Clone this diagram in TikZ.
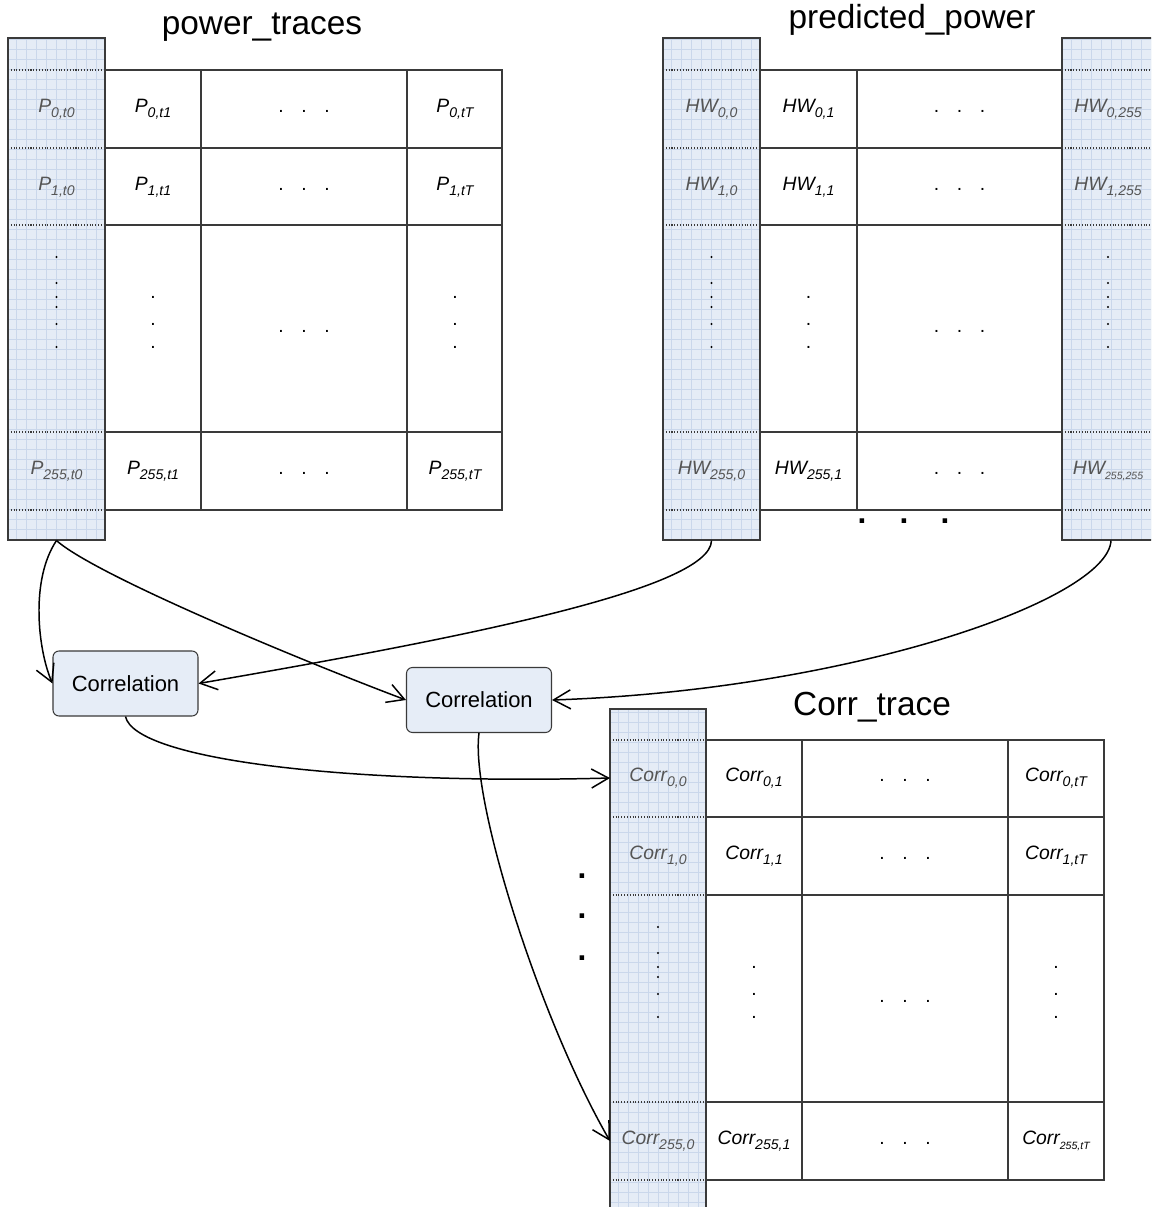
\documentclass[tikz,border=0pt]{standalone}
\usepackage{fontspec}
\setmainfont{Liberation Sans}
\usetikzlibrary{arrows.meta}

\definecolor{shadefill}{HTML}{E5ECF6}
\definecolor{shadegrid}{HTML}{CAD7EB}
\definecolor{tableline}{HTML}{3A3A3A}
\definecolor{greytext}{HTML}{555555}
\definecolor{boxfill}{HTML}{E6EDF7}

% subscripts of the cell labels
\newcommand\subidx[1]{\raisebox{-0.28em}{\fontsize{8}{9}\selectfont #1}}
\newcommand\smallsubidx[1]{\raisebox{-0.3em}{\fontsize{6}{7}\selectfont #1}}

\tikzset{
  shadecol/.style={draw=tableline, line width=0.6pt, fill=shadefill, inner sep=0pt,
    path picture={\draw[shadegrid, line width=0.3pt]
      (path picture bounding box.south west) grid[step=2mm]
      (path picture bounding box.north east);}},
  tline/.style={draw=tableline, line width=0.6pt},
  rowsep/.style={draw=tableline, line width=0.6pt, densely dotted},
  cell/.style={font=\fontsize{11}{13}\selectfont\itshape, inner sep=0pt},
  gcell/.style={cell, text=greytext},
  title/.style={font=\fontsize{19}{22}\selectfont, inner sep=0pt},
  dotmark/.style={font=\fontsize{11}{13}\selectfont, inner sep=0pt},
  bigdot/.style={font=\fontsize{18}{20}\selectfont\bfseries, inner sep=0pt},
  corrbox/.style={draw=tableline, fill=boxfill, line width=0.6pt, rounded corners=1.2mm,
    minimum width=29mm, minimum height=13mm, font=\fontsize{12.5}{15}\selectfont},
  flow/.style={line width=0.85pt, -{Straight Barb[length=3.4mm, width=3.8mm]}}
}

% three dots in a row, centred on (#1,#2)
\newcommand\hdotsat[2]{%
  \node[dotmark] at ({#1-23},{#2}) {.};
  \node[dotmark] at ({#1},{#2}) {.};
  \node[dotmark] at ({#1+23},{#2}) {.};}
% three dots in a column, around the middle of a tall row
\newcommand\vdotsat[2]{%
  \node[dotmark] at ({#1},{#2-31}) {.};
  \node[dotmark] at ({#1},{#2-4}) {.};
  \node[dotmark] at ({#1},{#2+19}) {.};}
% the longer, unevenly spaced column of marks in the shaded columns
\newcommand\vdotslong[2]{%
  \foreach \dy in {-71,-45,-31,-21,-4,19}
    \fill[black] ({#1},{#2+\dy}) circle[radius=0.65pt];}

\begin{document}
\begin{tikzpicture}[x=0.2mm, y=-0.2mm]
\clip (0,0) rectangle (1151,1207);
\fill[white] (0,0) rectangle (1151,1207);

% ---------- shaded key columns ----------
\node[shadecol, minimum width=19.4mm, minimum height=100.4mm] (pcol)  at (56.5,289) {};
\node[shadecol, minimum width=19.4mm, minimum height=100.4mm] (hcol1) at (711.5,289) {};
\node[shadecol, minimum width=19.6mm, minimum height=100.4mm] (hcol2) at (1111,289) {};
\node[shadecol, minimum width=19.2mm, minimum height=101.2mm] (ccol)  at (658,962) {};

% ---------- power_traces ----------
\node[title] (ttl1) at (262,27) {power\_traces};
\draw[tline] (105,70) rectangle (502,510);
\draw[tline] (201,70) -- (201,510) (407,70) -- (407,510);
\foreach \yy in {148,225,432} \draw[tline] (105,\yy) -- (502,\yy);
\foreach \yy in {70,148,225,432,510} \draw[rowsep] (8,\yy) -- (105,\yy);

\node[gcell] (p00) at (56.5,109) {P\subidx{0,t0}};
\node[cell]  (p01) at (153,109) {P\subidx{0,t1}};
\node[cell]  (p0T) at (455,109) {P\subidx{0,tT}};
\node[gcell] (p10) at (56.5,187) {P\subidx{1,t0}};
\node[cell]  (p11) at (153,187) {P\subidx{1,t1}};
\node[cell]  (p1T) at (455,187) {P\subidx{1,tT}};
\node[gcell] (p20) at (56.5,471) {P\subidx{255,t0}};
\node[cell]  (p21) at (153,471) {P\subidx{255,t1}};
\node[cell]  (p2T) at (455,471) {P\subidx{255,tT}};
\hdotsat{304}{111}
\hdotsat{304}{189}
\hdotsat{304}{331}
\hdotsat{304}{473}
\vdotslong{56.5}{328}
\vdotsat{153}{328}
\vdotsat{455}{328}

% ---------- predicted_power ----------
\node[title] (ttl2) at (912,20) {predicted\_power};
\foreach \yy in {70,148,225,432,510} {
  \draw[tline] (760,\yy) -- (1062,\yy);
  \draw[rowsep] (663,\yy) -- (760,\yy);
  \draw[rowsep] (1062,\yy) -- (1160,\yy);
}
\draw[tline] (857,70) -- (857,510);

\node[gcell] (h00) at (711.5,109) {HW\subidx{0,0}};
\node[cell]  (h01) at (808.5,109) {HW\subidx{0,1}};
\node[gcell] (h0T) at (1108,109) {HW\subidx{0,255}};
\node[gcell] (h10) at (711.5,187) {HW\subidx{1,0}};
\node[cell]  (h11) at (808.5,187) {HW\subidx{1,1}};
\node[gcell] (h1T) at (1108,187) {HW\subidx{1,255}};
\node[gcell] (h20) at (711.5,471) {HW\subidx{255,0}};
\node[cell]  (h21) at (808.5,471) {HW\subidx{255,1}};
\node[gcell] (h2T) at (1108,471) {HW\smallsubidx{255,255}};
\hdotsat{959.5}{111}
\hdotsat{959.5}{189}
\hdotsat{959.5}{331}
\hdotsat{959.5}{473}
\vdotslong{711.5}{328}
\vdotsat{808.5}{328}
\vdotslong{1108}{328}
\node[bigdot] (hm1) at (862,521) {.};
\node[bigdot] (hm2) at (904,521) {.};
\node[bigdot] (hm3) at (945,521) {.};

% ---------- Corr_trace ----------
\node[title] (ttl3) at (872,707) {Corr\_trace};
\draw[tline] (706,740) rectangle (1104,1180);
\draw[tline] (802,740) -- (802,1180) (1008,740) -- (1008,1180);
\foreach \yy in {817,895,1102} \draw[tline] (706,\yy) -- (1104,\yy);
\foreach \yy in {740,817,895,1102,1180} \draw[rowsep] (610,\yy) -- (706,\yy);

\node[gcell] (c00) at (658,778) {Corr\subidx{0,0}};
\node[cell]  (c01) at (754,778) {Corr\subidx{0,1}};
\node[cell]  (c0T) at (1056,778) {Corr\subidx{0,tT}};
\node[gcell] (c10) at (658,856) {Corr\subidx{1,0}};
\node[cell]  (c11) at (754,856) {Corr\subidx{1,1}};
\node[cell]  (c1T) at (1056,856) {Corr\subidx{1,tT}};
\node[gcell] (c20) at (658,1141) {Corr\subidx{255,0}};
\node[cell]  (c21) at (754,1141) {Corr\subidx{255,1}};
\node[cell]  (c2T) at (1056,1141) {Corr\smallsubidx{255,tT}};
\hdotsat{905}{780}
\hdotsat{905}{858}
\hdotsat{905}{1001}
\hdotsat{905}{1143}
\vdotslong{658}{998}
\vdotsat{754}{998}
\vdotsat{1056}{998}
\node[bigdot] (cm1) at (582,876) {.};
\node[bigdot] (cm2) at (582,916) {.};
\node[bigdot] (cm3) at (582,958) {.};

% ---------- correlation steps ----------
\node[corrbox] (box1) at (125.5,683.5) {Correlation};
\node[corrbox] (box2) at (479,700) {Correlation};

\coordinate (c00in)  at (610,778);
\coordinate (c255in) at (610,1141);

\draw[flow] (pcol.south) .. controls (30,580) and (38,650) .. (box1.west);
\draw[flow] (pcol.south) .. controls (95,575) and (300,660) .. (box2.west);
\draw[flow] (hcol1.south) .. controls (711,590) and (450,640) .. (box1.east);
\draw[flow] (hcol2.south) .. controls (1108,600) and (850,690) .. (box2.east);
\draw[flow] (box1.south) .. controls (135,760) and (350,785) .. (c00in);
\draw[flow] (box2.south) .. controls (470,800) and (540,1020) .. (c255in);
\end{tikzpicture}
\end{document}
